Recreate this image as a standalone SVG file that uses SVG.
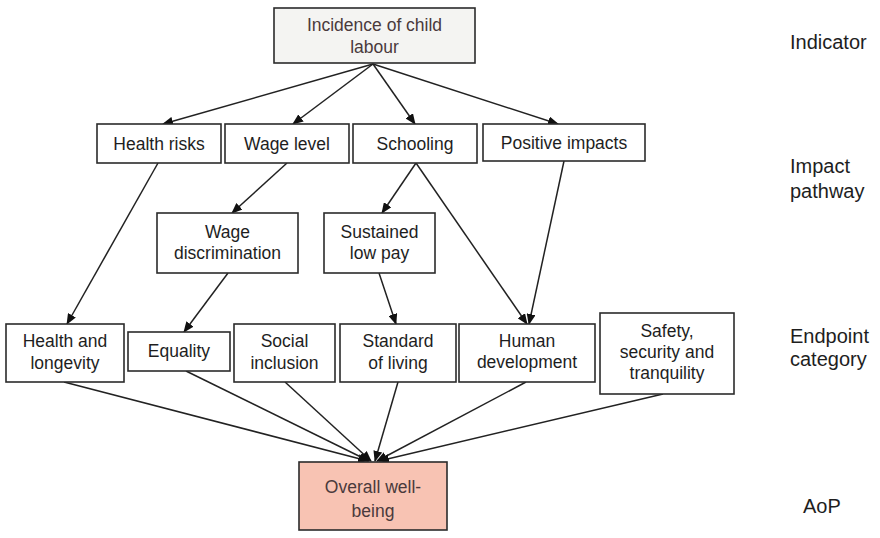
<svg xmlns="http://www.w3.org/2000/svg" width="880" height="538" viewBox="0 0 880 538">
<style>
.box{fill:#ffffff;stroke:#2b2b2b;stroke-width:1.6}
.t{font-family:"Liberation Sans",Arial,sans-serif;font-size:17.5px;fill:#1e1e1e;text-anchor:middle}
.tb{fill:#4a3a3c}
.lab{font-family:"Liberation Sans",Arial,sans-serif;font-size:20px;fill:#1e1e1e}
.c{stroke:#222;stroke-width:1.5;fill:none;marker-end:url(#ah)}
</style>
<defs>
<marker id="ah" markerUnits="userSpaceOnUse" markerWidth="11" markerHeight="9" refX="10" refY="4.5" orient="auto">
<path d="M0,0 L11,4.5 L0,9 z" fill="#111"/>
</marker>
</defs>
<rect width="880" height="538" fill="#ffffff"/>
<g id="connectors">
<line class="c" x1="373" y1="64" x2="163" y2="124"/>
<line class="c" x1="373" y1="64" x2="293" y2="124"/>
<line class="c" x1="373" y1="64" x2="415" y2="124"/>
<line class="c" x1="373" y1="64" x2="558" y2="124"/>
<line class="c" x1="158" y1="163" x2="67" y2="324"/>
<line class="c" x1="287" y1="163" x2="232" y2="213"/>
<line class="c" x1="416" y1="163" x2="382" y2="213"/>
<line class="c" x1="416" y1="163" x2="527" y2="324"/>
<line class="c" x1="564" y1="161" x2="529" y2="324"/>
<line class="c" x1="228" y1="273" x2="184" y2="332"/>
<line class="c" x1="379" y1="273" x2="396" y2="324"/>
<line class="c" x1="64" y1="382" x2="368" y2="461"/>
<line class="c" x1="186" y1="371" x2="369" y2="461"/>
<line class="c" x1="285" y1="382" x2="371" y2="461"/>
<line class="c" x1="398" y1="382" x2="375" y2="461"/>
<line class="c" x1="526" y1="382" x2="377" y2="461"/>
<line class="c" x1="663" y1="394" x2="379" y2="461"/>
</g>
<g id="indicator">
<rect x="274" y="8" width="201" height="55" fill="#f4f4f2" stroke="#2b2b2b" stroke-width="1.6"/>
<text class="t tb" x="374.5" y="31">Incidence of child</text>
<text class="t tb" x="374.5" y="53">labour</text>
</g>
<g id="health-risks">
<rect class="box" x="97" y="124" width="124" height="39"/>
<text class="t" x="159" y="150">Health risks</text>
</g>
<g id="wage-level">
<rect class="box" x="225" y="124" width="124" height="39"/>
<text class="t" x="287" y="150">Wage level</text>
</g>
<g id="schooling">
<rect class="box" x="353" y="124" width="124" height="39"/>
<text class="t" x="415" y="150">Schooling</text>
</g>
<g id="positive-impacts">
<rect class="box" x="483" y="124" width="162" height="37"/>
<text class="t" x="564" y="149">Positive impacts</text>
</g>
<g id="wage-discrimination">
<rect class="box" x="157" y="213" width="141" height="60"/>
<text class="t" x="227.5" y="238">Wage</text>
<text class="t" x="227.5" y="259">discrimination</text>
</g>
<g id="sustained-low-pay">
<rect class="box" x="324" y="213" width="111" height="60"/>
<text class="t" x="379.5" y="238">Sustained</text>
<text class="t" x="379.5" y="259">low pay</text>
</g>
<g id="health-longevity">
<rect class="box" x="6" y="324" width="118" height="58"/>
<text class="t" x="65" y="347">Health and</text>
<text class="t" x="65" y="369">longevity</text>
</g>
<g id="equality">
<rect class="box" x="128" y="332" width="102" height="39"/>
<text class="t" x="179" y="357">Equality</text>
</g>
<g id="social-inclusion">
<rect class="box" x="234" y="324" width="101" height="58"/>
<text class="t" x="284.5" y="347">Social</text>
<text class="t" x="284.5" y="369">inclusion</text>
</g>
<g id="standard-of-living">
<rect class="box" x="340" y="324" width="116" height="58"/>
<text class="t" x="398" y="347">Standard</text>
<text class="t" x="398" y="369">of living</text>
</g>
<g id="human-development">
<rect class="box" x="459" y="324" width="136" height="58"/>
<text class="t" x="527" y="347">Human</text>
<text class="t" x="527" y="368">development</text>
</g>
<g id="safety">
<rect class="box" x="600" y="313" width="134" height="81"/>
<text class="t" x="667" y="337">Safety,</text>
<text class="t" x="667" y="358">security and</text>
<text class="t" x="667" y="379">tranquility</text>
</g>
<g id="overall-wellbeing">
<rect x="299" y="462" width="148" height="68" fill="#f8c3b3" stroke="#2b2b2b" stroke-width="1.6"/>
<text class="t tb" x="373" y="493">Overall well-</text>
<text class="t tb" x="373" y="517">being</text>
</g>
<g id="labels">
<text class="lab" x="790" y="49">Indicator</text>
<text class="lab" x="790" y="173">Impact</text>
<text class="lab" x="790" y="198">pathway</text>
<text class="lab" x="790" y="343">Endpoint</text>
<text class="lab" x="790" y="366">category</text>
<text class="lab" x="803" y="513">AoP</text>
</g>
</svg>
